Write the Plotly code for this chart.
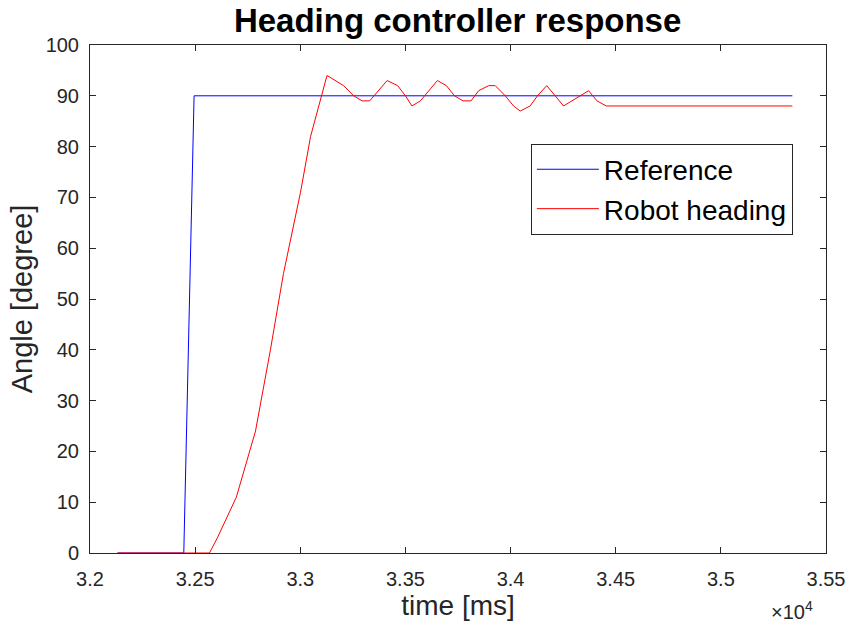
import plotly.graph_objects as go

# Reference (setpoint) heading, time in ms, angle in degrees
ref_time = [32131, 32446, 32495, 35340]
ref_angle = [0, 0, 90, 90]

# Measured robot heading
robot_time = [32131, 32568, 32606, 32696, 32787, 32858, 32920, 33001, 33049,
              33127, 33206, 33254, 33294, 33330, 33413, 33463, 33500, 33531,
              33571, 33652, 33695, 33733, 33774, 33812, 33848, 33896, 33927,
              33975, 34014, 34046, 34093, 34128, 34172, 34212, 34252, 34371,
              34411, 34455, 35340]
robot_angle = [0, 0, 3, 11, 24, 40, 55, 71, 82,
               94, 92, 90, 89, 89, 93, 92, 90, 88,
               89, 93, 92, 90, 89, 89, 91, 92, 92,
               90, 88, 87, 88, 90, 92, 90, 88, 91,
               89, 88, 88]

x_ticks = [32000, 32500, 33000, 33500, 34000, 34500, 35000, 35500]
x_tick_text = ["3.2", "3.25", "3.3", "3.35", "3.4", "3.45", "3.5", "3.55"]
y_ticks = list(range(0, 101, 10))

FONT = "Liberation Sans, Arial, Helvetica, sans-serif"
AXIS_GRAY = "#262626"

fig = go.Figure()
fig.add_trace(go.Scatter(x=ref_time, y=ref_angle, mode="lines", name="Reference",
                         line=dict(color="#0000ff", width=1)))
fig.add_trace(go.Scatter(x=robot_time, y=robot_angle, mode="lines", name="Robot heading",
                         line=dict(color="#ff0000", width=1)))

axis_common = dict(showline=True, linecolor=AXIS_GRAY, linewidth=1, mirror="allticks",
                   ticks="inside", ticklen=6, tickcolor=AXIS_GRAY, showgrid=False,
                   zeroline=False, automargin=False, ticklabeloverflow="allow",
                   tickfont=dict(family=FONT, size=20, color=AXIS_GRAY))

fig.update_layout(
    width=849, height=630,
    margin=dict(l=90, r=23, t=45, b=77),
    paper_bgcolor="white", plot_bgcolor="white",
    title=dict(text="<b>Heading controller response</b>", x=0.539, xanchor="center",
               y=0.968, yanchor="middle",
               font=dict(family=FONT, size=33, color="black")),
    xaxis=dict(range=[32000, 35500], tickvals=x_ticks, ticktext=x_tick_text,
               ticklabelstandoff=8,
               title=dict(text="time [ms]", font=dict(family=FONT, size=28, color=AXIS_GRAY),
                          standoff=6),
               **axis_common),
    yaxis=dict(range=[0, 100], tickvals=y_ticks, ticklabelstandoff=6,
               title=dict(text="Angle [degree]", font=dict(family=FONT, size=29, color=AXIS_GRAY),
                          standoff=4),
               **axis_common),
    legend=dict(x=0.599, xanchor="left", y=0.806, yanchor="top",
                bgcolor="white", bordercolor=AXIS_GRAY, borderwidth=1,
                font=dict(family=FONT, size=28, color="black"),
                itemwidth=62, tracegroupgap=0),
    showlegend=True,
)

fig.add_annotation(text="\u00d710<sup>4</sup>", xref="paper", yref="paper",
                   x=0.985, y=-0.085, xanchor="right", yanchor="top", showarrow=False,
                   font=dict(family=FONT, size=20, color=AXIS_GRAY))

fig.write_html("out.html")
